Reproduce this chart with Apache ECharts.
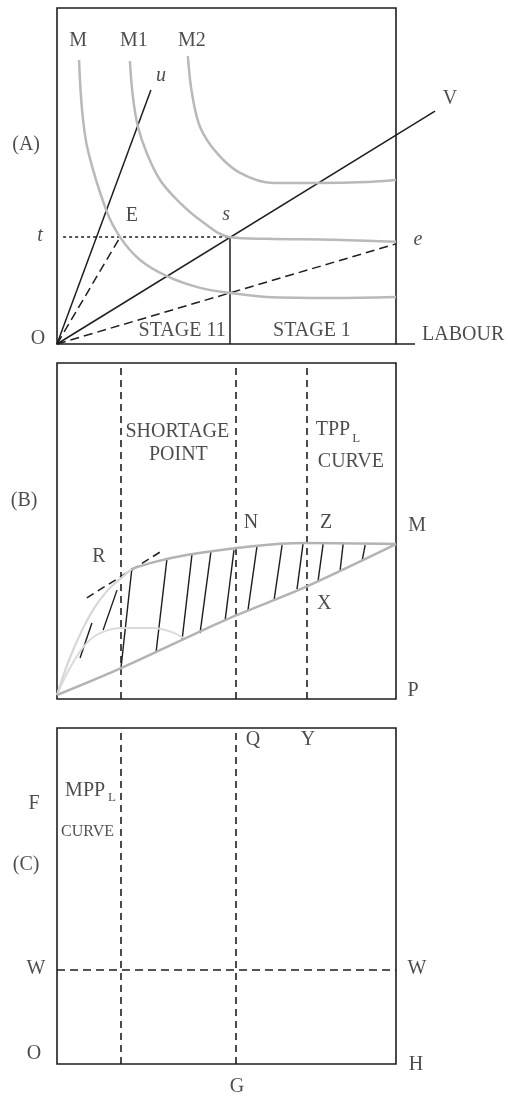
<!DOCTYPE html>
<html>
<head>
<meta charset="utf-8">
<script src="https://cdn.jsdelivr.net/npm/echarts@6/dist/echarts.min.js"></script>
<style>
  html, body { margin: 0; padding: 0; background: #fff; }
  #chart { width: 508px; height: 1096px; }
</style>
</head>
<body>
<div id="chart"></div>
<script>
// each panel uses a 0..100 box in both directions (x: labour, y: output)
const FONT = 'Liberation Serif';
const INK = '#1e1e1e';

// ---- panel (A): isoquants and rays ----
const isoM  = [[6.5,84.5],[7.4,69.6],[9.1,57.7],[14.5,39.9],[18.6,31.8],[24.5,25.0],[32.4,20.2],[42.2,16.7],[51.0,15.2],[61.9,14.0],[81.4,13.7],[100,14.0]];
const isoM1 = [[21.5,84.2],[22.4,73.5],[23.9,64.6],[26.5,56.8],[30.4,48.8],[35.4,42.9],[42.2,36.9],[51.0,31.8],[61.9,31.3],[81.4,31.0],[100,30.4]];
const isoM2 = [[38.6,85.7],[39.8,74.7],[42.2,64.6],[47.2,56.8],[54.0,50.9],[63.7,47.9],[76.7,47.9],[91.4,48.2],[100,48.8]];
const raysA = [[0,0,27.7,75.6],[0,0,111.5,69.3],[50.9,31.8,50.9,0],[100,0,105.6,0]];
const dashA = [[0,0,18.6,31.8],[0,0,100,29.8]];
const dotA  = [[1.8,31.8,50.9,31.8]];
const textA = [
  [6.2,90.2,'M'],[22.7,90.2,'M1'],[39.8,90.2,'M2'],[30.7,79.8,'u','i'],[115.9,72.9,'V'],
  [-9.1,59.2,'(A)'],[22.1,38.1,'E'],[49.9,38.4,'s','i'],[-5.0,32.1,'t','i'],[106.5,31.0,'e','i'],
  [-5.6,1.5,'O'],[36.9,3.9,'STAGE 11'],[75.2,3.9,'STAGE 1'],[119.8,2.7,'LABOUR']
];

// ---- panel (B): total physical product ----
const tppLight = [[0,1.2],[3.2,10.7],[7.4,20.5],[11.2,27.4],[15.0,32.4],[18.6,35.7],[22.1,38.7]];
const tppMain  = [[22.1,38.7],[28.9,40.8],[38.6,42.9],[52.5,44.9],[73.2,46.4],[100,46.1]];
const tppLow   = [[0,1.2],[18.9,9.2],[49.6,23.5],[73.2,33.3],[100,46.1]];
const hump     = [[0,1.2],[3.8,9.2],[8.3,16.1],[12.7,19.6],[19.2,21.1],[28.0,21.1],[33.9,19.9],[37.2,18.2]];
const hatch = [
  [6.8,12.2,10.3,22.6],[13.6,20.5,17.7,32.4],[18.9,9.5,22.1,39.0],[29.2,13.7,32.4,41.4],
  [36.9,17.6,39.8,42.9],[42.2,19.6,45.4,43.8],[49.6,23.5,52.2,44.3],[56.3,26.2,59.0,45.5],
  [64.0,29.2,66.4,45.8],[70.8,32.7,72.6,46.4],[77.0,35.1,78.5,46.1],[83.5,38.1,84.4,46.1],
  [90.0,41.1,90.9,45.8]
];
const tangentB = [[8.8,30.1,31.3,44.3]];
const vertB = [18.8, 52.6, 73.7];
const textB = [
  [-9.7,58.9,'(B)'],[57.2,52.4,'N'],[79.4,52.4,'Z'],[106.2,51.5,'M'],[12.4,42.3,'R'],
  [78.8,28.3,'X'],[105.0,2.4,'P'],[35.5,79.5,'SHORTAGE'],[35.8,72.6,'POINT'],
  [81.4,80.1,'TPP'],[88.3,77.4,'L','sub'],[86.7,70.5,'CURVE']
];

// ---- panel (C): marginal physical product ----
const vertC = [18.8, 52.6];
const wageC = 28.0;
const textC = [
  [57.8,96.4,'Q'],[74.0,96.4,'Y'],[-6.8,77.4,'F'],[-9.1,59.2,'(C)'],[-6.2,28.3,'W'],
  [106.2,28.3,'W'],[-6.8,3.0,'O'],[105.9,-0.3,'H'],[53.1,-6.8,'G'],
  [8.3,81.2,'MPP'],[16.2,79.3,'L','sub'],[9.0,69.0,'CURVE','small']
];

const chart = echarts.init(document.getElementById('chart'));

const panelTops = [8, 363, 728];
const grids = panelTops.map(t => ({
  left: 57, width: 339, top: t, height: 336,
  show: true, borderColor: INK, borderWidth: 1.6, backgroundColor: 'transparent'
}));
const xAxes = grids.map((g, i) => ({ type: 'value', gridIndex: i, min: 0, max: 100, show: false }));
const yAxes = grids.map((g, i) => ({ type: 'value', gridIndex: i, min: 0, max: 100, show: false }));

function curve(gi, data, color, width, smooth) {
  return {
    type: 'line', xAxisIndex: gi, yAxisIndex: gi, data: data,
    smooth: smooth, symbol: 'none', clip: false, silent: true,
    lineStyle: { color: color, width: width }
  };
}

function segs(gi, list, color, width, type) {
  return {
    type: 'lines', coordinateSystem: 'cartesian2d', xAxisIndex: gi, yAxisIndex: gi,
    clip: false, silent: true,
    data: list.map(s => ({ coords: [[s[0], s[1]], [s[2], s[3]]] })),
    lineStyle: { color: color, width: width, type: type || 'solid', opacity: 1, curveness: 0 }
  };
}

function texts(gi, list) {
  return {
    type: 'scatter', xAxisIndex: gi, yAxisIndex: gi, clip: false, silent: true,
    symbolSize: 0,
    data: list.map(t => {
      const item = { value: [t[0], t[1]], name: t[2] };
      if (t[3] === 'i') item.label = { fontStyle: 'italic' };
      if (t[3] === 'sub') item.label = { fontSize: 13 };
      if (t[3] === 'small') item.label = { fontSize: 16 };
      return item;
    }),
    label: {
      show: true, position: 'inside', formatter: '{b}',
      color: INK, fontFamily: FONT, fontSize: 20
    }
  };
}

const vlines = (xs) => xs.map(x => [x, 0, x, 100]);

const series = [
  // (A)
  curve(0, isoM, '#b9b9b9', 2.5, 0.35),
  curve(0, isoM1, '#b9b9b9', 2.5, 0.35),
  curve(0, isoM2, '#b9b9b9', 2.5, 0.35),
  segs(0, raysA, INK, 1.5),
  segs(0, dashA, INK, 1.5, [9, 5]),
  segs(0, dotA, INK, 1.5, [3, 3]),
  texts(0, textA),
  // (B)
  segs(1, vlines(vertB), INK, 1.6, [7, 5]),
  curve(1, hump, '#dadada', 2, 0.4),
  curve(1, tppLight, '#d6d6d6', 2.2, 0.4),
  curve(1, tppMain, '#b3b3b3', 2.5, 0.4),
  curve(1, tppLow, '#b3b3b3', 2.5, 0.3),
  segs(1, hatch, INK, 1.4),
  segs(1, tangentB, INK, 1.5, [8, 5]),
  texts(1, textB),
  // (C)
  segs(2, vlines(vertC), INK, 1.6, [7, 5]),
  segs(2, [[0, wageC, 100, wageC]], INK, 1.6, [8, 5]),
  texts(2, textC)
];

chart.setOption({
  animation: false,
  grid: grids,
  xAxis: xAxes,
  yAxis: yAxes,
  series: series
});
</script>
</body>
</html>
